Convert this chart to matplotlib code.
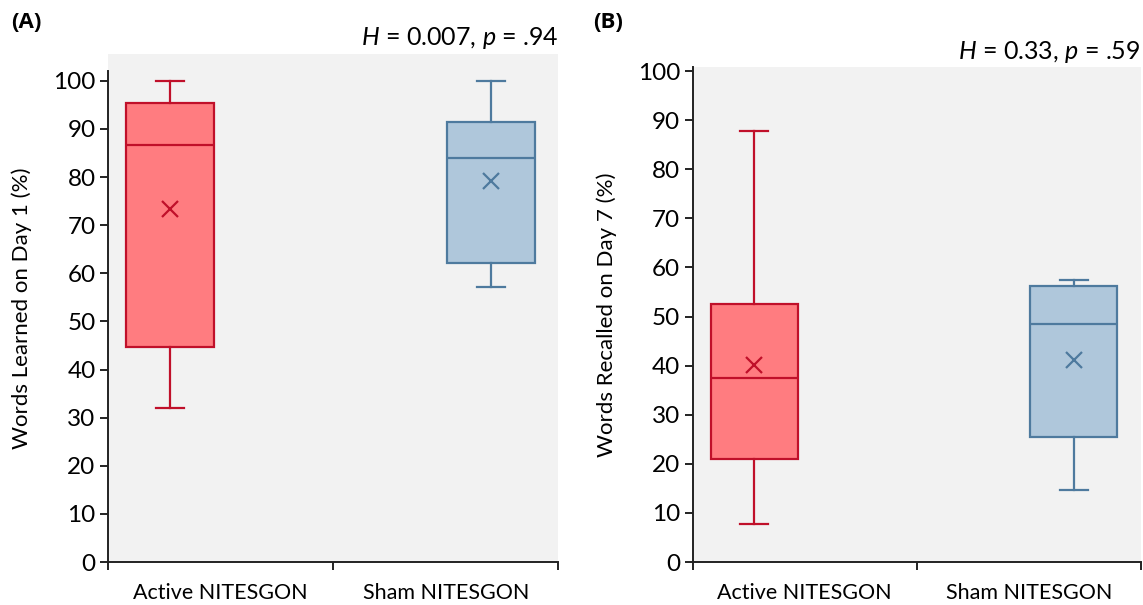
import matplotlib.pyplot as plt

plt.rcParams['font.family'] = ['Lato', 'DejaVu Sans']
plt.rcParams['mathtext.fontset'] = 'custom'
plt.rcParams['mathtext.it'] = 'Lato:italic'
plt.rcParams['mathtext.rm'] = 'Lato'

groups = ["Active NITESGON", "Sham NITESGON"]

# panel A: words learned on day 1 (%)
a_whislo = [32.0, 57.2]
a_q1 = [44.7, 62.1]
a_med = [86.7, 84.0]
a_q3 = [95.4, 91.4]
a_whishi = [100.0, 100.0]
a_mean = [73.4, 79.1]

# panel B: words recalled on day 7 (%)
b_whislo = [7.7, 14.7]
b_q1 = [20.9, 25.5]
b_med = [37.5, 48.4]
b_q3 = [52.6, 56.2]
b_whishi = [87.8, 57.4]
b_mean = [40.2, 41.2]

face_cols = ["#FF7C80", "#AFC7DB"]
edge_cols = ["#C0102A", "#4E7A9E"]
positions = [0.275, 1.70]


def draw_panel(ax, lo, q1, med, q3, hi, mean, ylabel, ytop, spine_top, stat_txt):
    ax.set_facecolor("#F2F2F2")
    for i in range(2):
        st = [dict(whislo=lo[i], q1=q1[i], med=med[i], q3=q3[i], whishi=hi[i],
                   mean=mean[i], fliers=[])]
        ax.bxp(st, positions=[positions[i]], widths=0.39, showmeans=True,
               patch_artist=True, showfliers=False,
               boxprops=dict(facecolor=face_cols[i], edgecolor=edge_cols[i], linewidth=1.6),
               medianprops=dict(color=edge_cols[i], linewidth=1.6),
               whiskerprops=dict(color=edge_cols[i], linewidth=1.6),
               capprops=dict(color=edge_cols[i], linewidth=1.6),
               capwidths=0.125,
               meanprops=dict(marker="x", markeredgecolor=edge_cols[i], markersize=11,
                              markeredgewidth=1.6))
    ax.set_xlim(0, 2)
    ax.set_ylim(0, ytop)
    ax.set_yticks(range(0, 101, 10))
    ax.spines["top"].set_visible(False)
    ax.spines["right"].set_visible(False)
    ax.spines["left"].set_bounds(0, spine_top)
    for s in ("left", "bottom"):
        ax.spines[s].set_linewidth(1.4)
        ax.spines[s].set_color("#222222")
    ax.set_xticks([0, 1, 2])
    ax.set_xticklabels([])
    ax.set_xticks([0.5, 1.5], minor=True)
    ax.set_xticklabels(groups, minor=True, fontsize=15.5)
    ax.tick_params(axis="x", which="minor", length=0, pad=15)
    ax.tick_params(axis="x", which="major", length=6, width=1.4, color="#222222")
    ax.tick_params(axis="y", labelsize=17.5, length=6, width=1.4, color="#222222", pad=3)
    ax.set_ylabel(ylabel, fontsize=16, labelpad=15)
    ax.text(1.0, 1.005, stat_txt, transform=ax.transAxes, ha="right", va="bottom",
            fontsize=18)
    return ax


fig = plt.figure(figsize=(11.43, 6.05), dpi=100)
ax1 = fig.add_axes([0.0945, 0.071, 0.394, 0.840])
ax2 = fig.add_axes([0.606, 0.071, 0.392, 0.818])

draw_panel(ax1, a_whislo, a_q1, a_med, a_q3, a_whishi, a_mean,
           "Words Learned on Day 1 (%)", 105.6, 102,
           "$H$ = 0.007, $p$ = .94")
draw_panel(ax2, b_whislo, b_q1, b_med, b_q3, b_whishi, b_mean,
           "Words Recalled on Day 7 (%)", 100.8, 100.8,
           "$H$ = 0.33, $p$ = .59")

fig.text(0.010, 0.962, "(A)", fontsize=16, fontweight="bold", va="center",
         family=["Open Sans", "DejaVu Sans"])
fig.text(0.519, 0.962, "(B)", fontsize=16, fontweight="bold", va="center",
         family=["Open Sans", "DejaVu Sans"])

fig.savefig("out.png", dpi=100)
